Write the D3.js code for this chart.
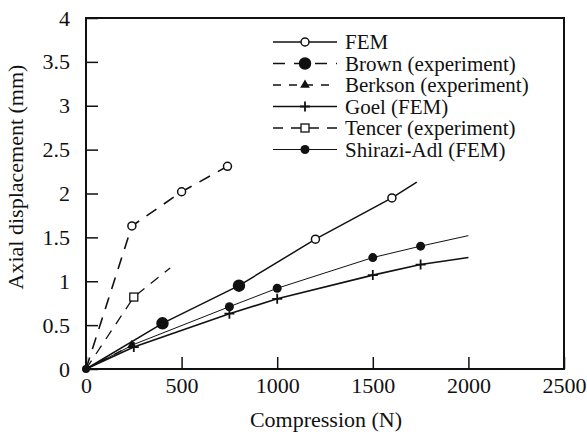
<html><head><script src="https://d3js.org/d3.v7.min.js"></script></head>
<body style="margin:0">
<svg id="chart" width="587" height="436"></svg>
<script>

// data
var femX = [0, 400, 800, 1200, 1600, 1730];
var femY = [0, 0.52, 0.95, 1.48, 1.95, 2.13];
var brownX = [0, 240, 500, 740];
var brownY = [0, 1.63, 2.02, 2.31];
var berksonX = [0, 240];
var berksonY = [0, 0.27];
var goelX = [0, 250, 750, 1000, 1500, 1750, 2000];
var goelY = [0, 0.25, 0.63, 0.8, 1.07, 1.19, 1.27];
var tencerX = [0, 250, 440];
var tencerY = [0, 0.82, 1.15];
var shiraziX = [0, 250, 750, 1000, 1500, 1750, 2000];
var shiraziY = [0, 0.28, 0.71, 0.92, 1.27, 1.4, 1.52];

var xTicks = [0, 500, 1000, 1500, 2000, 2500];
var yTicks = [0, 0.5, 1, 1.5, 2, 2.5, 3, 3.5, 4];

var names = ["FEM", "Brown (experiment)", "Berkson (experiment)", "Goel (FEM)",
             "Tencer (experiment)", "Shirazi-Adl (FEM)"];

// which points carry a marker
var series = [
  {name: names[0], xs: femX, ys: femY, marks: [1, 2, 3, 4], shape: "circle", dash: null, w: 1.5},
  {name: names[1], xs: brownX, ys: brownY, marks: [1, 2, 3], shape: "circle", dash: "12,9", w: 1.6},
  {name: names[2], xs: berksonX, ys: berksonY, marks: [1], shape: "triangle", dash: "8,8", w: 1.3},
  {name: names[3], xs: goelX, ys: goelY, marks: [1, 2, 3, 4, 5], shape: "plus", dash: null, w: 1.6},
  {name: names[4], xs: tencerX, ys: tencerY, marks: [1], shape: "square", dash: "10,8", w: 1.3},
  {name: names[5], xs: shiraziX, ys: shiraziY, marks: [2, 3, 4, 5], shape: "dot", dash: null, w: 1}
];
// the first FEM marks look filled in the scan
var femFilled = [true, true, false, false];

var FONT = "Liberation Serif";

var width = 587, height = 436;
var margin = {top: 18, right: 23, bottom: 67, left: 86};

var svg = d3.select("#chart");

var g = svg.append("g")
    .attr("transform", "translate(" + margin.left + "," + margin.top + ")");

var w = width - margin.left - margin.right,
    h = height - margin.top - margin.bottom;

var x = d3.scaleLinear().domain([0, 2500]).range([0, w]);
var y = d3.scaleLinear().domain([0, 4]).range([h, 0]);

// axes with inward ticks
var xa = g.append("g")
    .attr("transform", "translate(0," + h + ")")
    .call(d3.axisBottom(x).tickValues(xTicks).tickSize(-12).tickPadding(8)
      .tickFormat(d3.format("d")));
var ya = g.append("g")
    .call(d3.axisLeft(y).tickValues(yTicks).tickSize(-12).tickPadding(16)
      .tickFormat(function(d) { return d; }));
[xa, ya].forEach(function(a) {
  a.attr("font-family", FONT).attr("font-size", 22);
  a.select(".domain").remove();
  a.selectAll("line").attr("stroke", "#111").attr("stroke-width", 1.5);
  a.selectAll("text")
    .attr("fill", "#111")
    .attr("font-family", FONT)
    .attr("font-size", 22);
});

// frame
g.append("rect")
    .attr("x", 0).attr("y", 0)
    .attr("width", w).attr("height", h)
    .attr("fill", "none")
    .attr("stroke", "#111")
    .attr("stroke-width", 2);

// axis titles
svg.append("text")
    .attr("x", 326).attr("y", 427)
    .attr("text-anchor", "middle")
    .attr("font-family", FONT)
    .attr("font-size", 22)
    .attr("fill", "#111")
    .text("Compression (N)");
svg.append("text")
    .attr("transform", "translate(23,177) rotate(-90)")
    .attr("text-anchor", "middle")
    .attr("font-family", FONT)
    .attr("font-size", 22)
    .attr("fill", "#111")
    .text("Axial displacement (mm)");

var line = d3.line()
    .x(function(d) { return x(d[0]); })
    .y(function(d) { return y(d[1]); });

function drawMark(sel, shape, cx, cy, filled) {
  if (shape === "circle") {
    sel.append("circle").attr("cx", cx).attr("cy", cy)
      .attr("r", filled ? 5.5 : 4)
      .attr("fill", filled ? "#111" : "#fff")
      .attr("stroke", "#111").attr("stroke-width", 1.5);
  } else if (shape === "dot") {
    sel.append("circle").attr("cx", cx).attr("cy", cy)
      .attr("r", 4.5).attr("fill", "#111");
  } else if (shape === "square") {
    sel.append("rect").attr("x", cx - 4).attr("y", cy - 4)
      .attr("width", 8).attr("height", 8)
      .attr("fill", "#fff").attr("stroke", "#111").attr("stroke-width", 1.3);
  } else if (shape === "triangle") {
    sel.append("path")
      .attr("d", d3.symbol().type(d3.symbolTriangle).size(40)())
      .attr("transform", "translate(" + cx + "," + cy + ")")
      .attr("fill", "#111");
  } else if (shape === "plus") {
    sel.append("path")
      .attr("d", "M" + (cx - 5) + "," + cy + "H" + (cx + 5) + "M" + cx + "," + (cy - 5) + "V" + (cy + 5))
      .attr("stroke", "#111").attr("stroke-width", 1.8);
  }
}

series.forEach(function(s) {
  var pts = s.xs.map(function(v, i) { return [v, s.ys[i]]; });
  g.append("path")
    .datum(pts)
    .attr("fill", "none")
    .attr("stroke", "#111")
    .attr("stroke-width", s.w)
    .attr("stroke-dasharray", s.dash)
    .attr("d", line);
  s.marks.forEach(function(i, k) {
    var filled = s.name === "FEM" ? femFilled[k] : false;
    drawMark(g, s.shape, x(pts[i][0]), y(pts[i][1]), filled);
  });
});

// origin blob
g.append("circle").attr("cx", x(0)).attr("cy", y(0)).attr("r", 4).attr("fill", "#111");

// legend
var leg = svg.append("g");
series.forEach(function(s, i) {
  var ly = 42 + i * 21.5;
  leg.append("line")
    .attr("x1", 273).attr("x2", 337)
    .attr("y1", ly).attr("y2", ly)
    .attr("stroke", "#111")
    .attr("stroke-width", s.w)
    .attr("stroke-dasharray", s.dash);
  drawMark(leg, s.shape, 305, ly, s.name === "Brown (experiment)");
  leg.append("text")
    .attr("x", 345).attr("y", ly + 7)
    .attr("font-family", FONT)
    .attr("font-size", 21)
    .attr("fill", "#111")
    .text(s.name);
});

</script>
</body>
</html>
